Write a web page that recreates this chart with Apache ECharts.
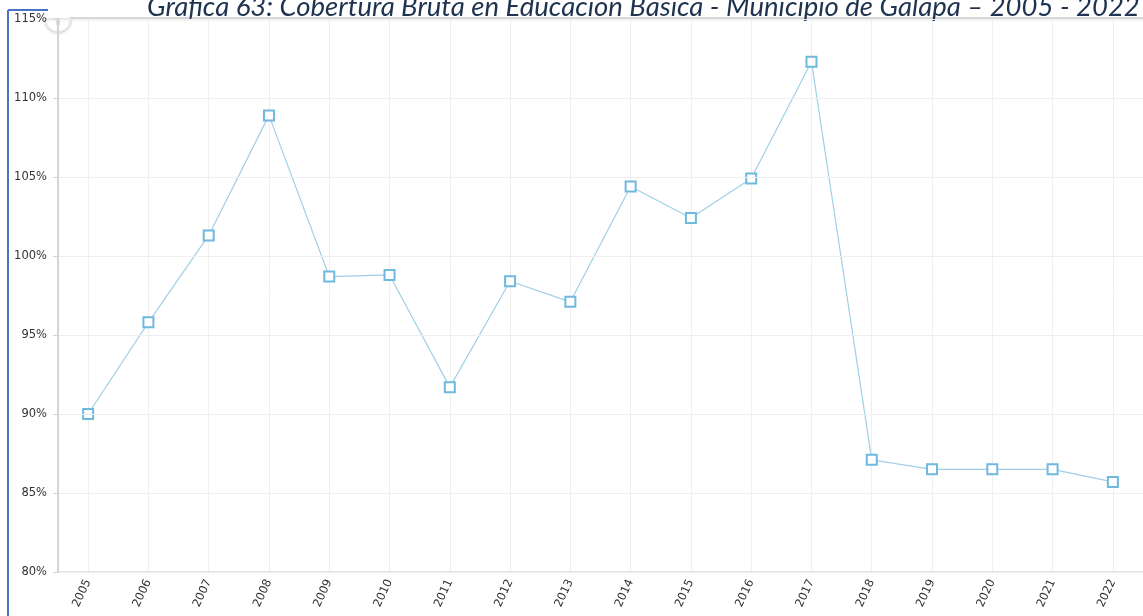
<!DOCTYPE html>
<html>
<head>
<meta charset="utf-8">
<script src="https://cdn.jsdelivr.net/npm/echarts@6/dist/echarts.min.js"></script>
<style>
  html, body { margin: 0; padding: 0; background: #fff; }
  #chart { width: 1143px; height: 616px; }
</style>
</head>
<body>
<div id="chart"></div>
<script>
// Cobertura bruta en educación básica, Galapa (porcentaje)
const years = ['2005','2006','2007','2008','2009','2010','2011','2012','2013',
               '2014','2015','2016','2017','2018','2019','2020','2021','2022'];
const coverage = [90.0, 95.8, 101.3, 108.9, 98.7, 98.8, 91.7, 98.4, 97.1,
                  104.4, 102.4, 104.9, 112.3, 87.1, 86.5, 86.5, 86.5, 85.7];
const yTicks = { min: 80, max: 115, step: 5 };
const titleText = 'Gráfica 63: Cobertura Bruta en Educación Básica - Municipio de Galapa – 2005 - 2022';

const chart = echarts.init(document.getElementById('chart'), null, { renderer: 'canvas' });

chart.setOption({
  animation: false,
  backgroundColor: '#ffffff',
  grid: { left: 58, top: 19, bottom: 44, width: 1096, containLabel: false },
  xAxis: {
    type: 'category',
    data: years,
    boundaryGap: true,
    axisLine: { lineStyle: { color: '#e2e2e2', width: 2 } },
    axisTick: { show: false },
    axisLabel: { rotate: 65, color: '#333', fontSize: 11.5, fontFamily: 'DejaVu Sans', margin: 8 },
    splitLine: { show: true, alignWithLabel: true, lineStyle: { color: '#efefef', width: 1 } }
  },
  yAxis: {
    type: 'value',
    min: yTicks.min,
    max: yTicks.max,
    interval: yTicks.step,
    axisLine: { show: true, lineStyle: { color: '#d4d4d4', width: 2 } },
    axisTick: { show: true, length: 5, lineStyle: { color: '#d4d4d4' } },
    axisLabel: { formatter: '{value}%', color: '#333', fontSize: 11.5, fontFamily: 'DejaVu Sans', margin: 11 },
    splitLine: { show: true, lineStyle: { color: '#efefef', width: 1 } },
    z: 20
  },
  series: [{
    type: 'line',
    data: coverage,
    symbol: 'emptyRect',
    symbolSize: 10,
    lineStyle: { color: '#9fd0e8', width: 1.2 },
    itemStyle: { color: '#6fb8de', borderColor: '#6fb8de', borderWidth: 2.5 },
    z: 5
  }],
  graphic: [
    // left accent rule
    { type: 'line', shape: { x1: 8, y1: 10, x2: 8, y2: 616 }, style: { stroke: '#4a72c4', lineWidth: 2 }, z: 10 },
    { type: 'line', shape: { x1: 8, y1: 10, x2: 48, y2: 10 }, style: { stroke: '#4a72c4', lineWidth: 2 }, z: 10 },
    // plot top border
    { type: 'line', shape: { x1: 70, y1: 18, x2: 1143, y2: 18 },
      style: { stroke: '#d8d8d8', lineWidth: 2, shadowBlur: 2, shadowColor: 'rgba(0,0,0,0.12)', shadowOffsetY: 1 }, z: 10 },
    // half-round handle at the top-left corner
    { type: 'sector', shape: { cx: 58, cy: 19, r0: 0, r: 13, startAngle: 0, endAngle: Math.PI },
      style: { fill: '#ffffff', stroke: '#dedede', lineWidth: 1, shadowBlur: 3, shadowColor: 'rgba(0,0,0,0.15)', shadowOffsetY: 1 }, z: 11 },
    { type: 'text', x: 58, y: 23, style: { text: 'II', fill: '#c8c8c8', fontSize: 8, align: 'center', verticalAlign: 'middle', fontFamily: 'DejaVu Sans' }, z: 12 },
    // title, partially above the page edge
    { type: 'text', x: 147, y: 21,
      style: { text: titleText, fill: '#1e3350', fontSize: 27.5, fontStyle: 'italic',
               fontFamily: 'Lato', align: 'left', verticalAlign: 'bottom' }, z: 12 }
  ]
});
</script>
</body>
</html>
